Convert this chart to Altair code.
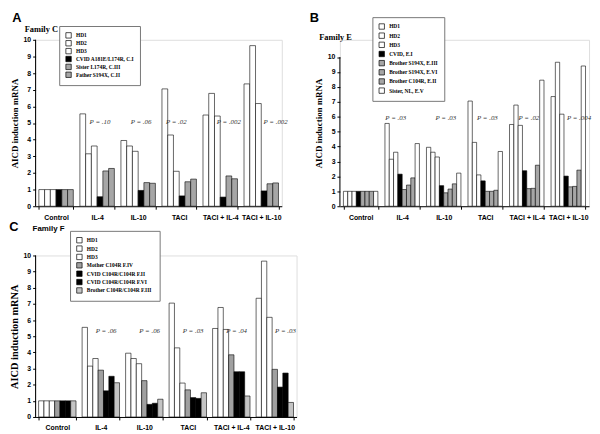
import altair as alt
import pandas as pd

CATS = ["Control", "IL-4", "IL-10", "TACI", "TACI + IL-4", "TACI + IL-10"]
TICKS = [0, 1, 2, 3, 4, 5, 6, 7, 8, 9, 10]

# healthy donors (same in every panel)
HD1 = [1, 5.55, 3.95, 7.05, 5.48, 7.35]
HD2 = [1, 3.15, 3.62, 4.28, 6.78, 9.65]
HD3 = [1, 3.62, 3.30, 2.10, 5.42, 6.17]

# Panel A - Family C
A_SERIES = ["HD1", "HD2", "HD3", "CVID A181E/L174R, C.I", "Sister L174R, C.III", "Father S194X, C.II"]
A_FILLS = ["white", "white", "white", "black", "#a6a6a6", "#a6a6a6"]
A_CVID = [1, 0.57, 0.95, 0.62, 0.55, 0.92]
A_SISTER = [1, 2.12, 1.42, 1.47, 1.82, 1.35]
A_FATHER = [1, 2.27, 1.38, 1.63, 1.65, 1.40]
A_P = ["P = .10", "P = .06", "P = .02", "P = .002", "P = .002"]
A_P_ANCHOR = ["CVID A181E/L174R, C.I", "CVID A181E/L174R, C.I", "HD3", "Sister L174R, C.III", "Father S194X, C.II"]

# Panel B - Family E
B_SERIES = ["HD1", "HD2", "HD3", "CVID, E.I", "Brother S194X, E.III", "Brother S194X, E.VI",
            "Brother C104R, E.II", "Sister, NL, E.V"]
B_FILLS = ["white", "white", "white", "black", "#a6a6a6", "#a6a6a6", "#a6a6a6", "white"]
B_CVID = [1, 2.15, 1.38, 1.70, 2.38, 2.02]
B_BRO_III = [1, 1.12, 0.90, 1.00, 1.18, 1.30]
B_BRO_VI = [1, 1.42, 1.15, 1.00, 1.20, 1.33]
B_BRO_II = [1, 1.90, 1.50, 1.07, 2.75, 2.42]
B_SISTER = [1, 4.20, 2.22, 3.67, 8.45, 9.40]
B_P = ["P = .03", "P = .03", "P = .03", "P = .02", "P = .004"]
B_P_ANCHOR = ["HD3", "Brother S194X, E.III", "Brother S194X, E.III", "Brother S194X, E.III", "Brother C104R, E.II"]

# Panel C - Family F
C_SERIES = ["HD1", "HD2", "HD3", "Mother C104R F.IV", "CVID  C104R/C104R F.II",
            "CVID C104R/C104R  F.VI", "Brother C104R/C104R  F.III"]
C_FILLS = ["white", "white", "white", "#a0a0a0", "black", "black", "#c4c4c4"]
C_MOTHER = [1, 2.90, 2.25, 1.68, 3.85, 2.95]
C_CVID_II = [1, 1.62, 0.78, 1.20, 2.80, 1.85]
C_CVID_VI = [1, 2.52, 0.85, 1.15, 2.80, 2.72]
C_BROTHER = [1, 2.12, 1.10, 1.50, 1.30, 0.90]
C_P = ["P = .06", "P = .06", "P = .03", "P = .04", "P = .03"]
C_P_ANCHOR = ["CVID  C104R/C104R F.II"] * 4 + ["CVID C104R/C104R  F.VI"]

SERIF = "Liberation Serif"
SANS = "Liberation Sans"

INDEP = dict(x="independent", y="independent", xOffset="independent", color="independent")


def panel(series, fills, columns, pvals, anchors, p_y, width, height, ymax,
          letter, letter_xy, family, family_xy, family_font, family_size,
          legend_xy, row_pad, ytitle_size, pad_inner):
    rows = []
    for s, vals in zip(series, columns):
        for c, v in zip(CATS, vals):
            rows.append({"cat": c, "series": s, "value": v})
    df = pd.DataFrame(rows)

    xscale = alt.Scale(paddingInner=pad_inner, paddingOuter=pad_inner / 2)
    xaxis = alt.Axis(title=None, labelAngle=0, tickBand="extent", tickSize=3,
                     domainColor="black", tickColor="black", labelColor="black",
                     labelFont=SANS, labelFontWeight="bold", labelFontSize=7,
                     labelPadding=4)
    yscale = alt.Scale(domain=[0, ymax], nice=False, zero=True)
    yaxis = alt.Axis(title="AICD induction mRNA", values=TICKS, grid=False, domain=False,
                     tickSize=3, tickColor="black", labelColor="black", labelFont=SANS,
                     labelFontWeight="bold", labelFontSize=7, labelPadding=2,
                     labelOverlap=False, titleFont=SERIF, titleFontWeight="bold",
                     titleFontSize=ytitle_size, titleColor="black", titlePadding=4)
    offscale = alt.Scale(paddingInner=0, paddingOuter=0)

    bars = alt.Chart(df).mark_bar(stroke="black", strokeWidth=0.6).encode(
        x=alt.X("cat:N", sort=CATS, scale=xscale, axis=xaxis),
        xOffset=alt.XOffset("series:N", sort=series, scale=offscale),
        y=alt.Y("value:Q", scale=yscale, axis=yaxis),
        color=alt.Color("series:N", sort=series,
                        scale=alt.Scale(domain=series, range=fills),
                        legend=alt.Legend(title=None, orient="none",
                                          legendX=legend_xy[0], legendY=legend_xy[1],
                                          symbolType="square", symbolSize=30,
                                          symbolStrokeColor="black", symbolStrokeWidth=0.7,
                                          labelFont=SERIF, labelFontWeight="bold",
                                          labelFontSize=5.5, labelColor="black",
                                          labelOffset=4, rowPadding=row_pad,
                                          strokeColor="#777777", fillColor="white",
                                          padding=6, labelLimit=200)),
    )

    axis_line = alt.Chart(pd.DataFrame({"a": [0]})).mark_rule(color="black", strokeWidth=1).encode(
        x=alt.value(0), y=alt.Y(datum=0, scale=yscale, axis=yaxis), y2=alt.Y2(datum=10))

    pdf = pd.DataFrame({"cat": CATS[1:], "series": anchors, "txt": pvals})
    ptext = alt.Chart(pdf).mark_text(font=SERIF, fontStyle="italic", fontSize=7,
                                     color="#333333").encode(
        x=alt.X("cat:N", sort=CATS, scale=xscale, axis=xaxis),
        xOffset=alt.XOffset("series:N", sort=series, scale=offscale),
        y=alt.Y(datum=p_y, scale=yscale, axis=yaxis), text="txt:N")

    let = alt.Chart(pd.DataFrame({"t": [letter]})).mark_text(
        font=SANS, fontWeight="bold", fontSize=13, align="center", baseline="alphabetic",
        color="black").encode(x=alt.value(letter_xy[0]), y=alt.value(letter_xy[1]), text="t:N")
    fam = alt.Chart(pd.DataFrame({"t": [family]})).mark_text(
        font=family_font, fontWeight="bold", fontSize=family_size, align="left",
        baseline="alphabetic", color="black").encode(
        x=alt.value(family_xy[0]), y=alt.value(family_xy[1]), text="t:N")

    return alt.layer(bars, axis_line, ptext, let, fam).properties(width=width, height=height)


pA = panel(A_SERIES, A_FILLS, [HD1, HD2, HD3, A_CVID, A_SISTER, A_FATHER], A_P, A_P_ANCHOR, 5.05,
           250, 169, 10, "A", (-19, -18), "Family C", (-11, -8), SERIF, 8.5,
           (24, -14), -1.8, 9, 0.16)
pB = panel(B_SERIES, B_FILLS, [HD1, HD2, HD3, B_CVID, B_BRO_III, B_BRO_VI, B_BRO_II, B_SISTER],
           B_P, B_P_ANCHOR, 5.9,
           253, 169, 169 / 15.15, "B", (-26, -18), "Family E", (-21, 0), SERIF, 8.5,
           (33, -23), 0.3, 9, 0.17)
pC = panel(C_SERIES, C_FILLS, [HD1, HD2, HD3, C_MOTHER, C_CVID_II, C_CVID_VI, C_BROTHER],
           C_P, C_P_ANCHOR, 5.3,
           265, 164, 10, "C", (-22, -25), "Family F", (-3, -25), SANS, 8,
           (35, -25), -0.5, 10.5, 0.14)

chart = alt.concat(pA, pB, pC, columns=2, bounds="flush",
                   spacing={"row": 50, "column": 44}).resolve_scale(**INDEP).properties(
    padding=0).configure_view(strokeWidth=0).configure(background="white")

chart.save("out.html", embed_options={"renderer": "svg", "actions": False})
